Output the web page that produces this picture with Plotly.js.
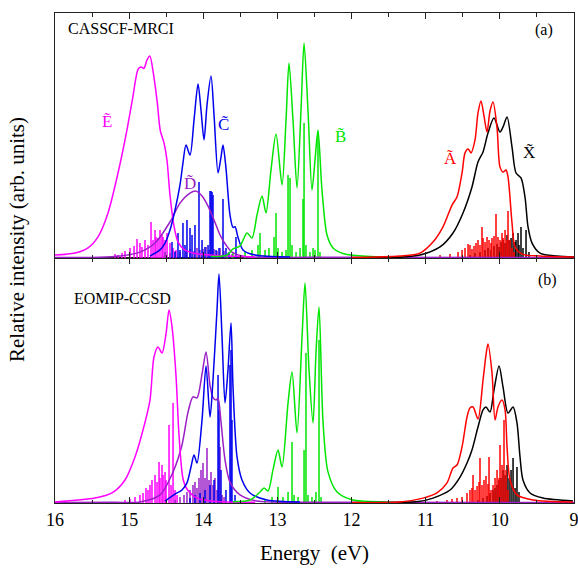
<!DOCTYPE html>
<html>
<head>
<meta charset="utf-8">
<script src="https://cdn.plot.ly/plotly-3.0.1.min.js"></script>
<style>html,body{margin:0;padding:0;background:#fff;}#chart{width:578px;height:568px;}</style>
</head>
<body>
<div id="chart"></div>
<script>
// ---------- Panel (a) CASSCF-MRCI : envelopes ----------
const mrciE_en = [16.0,15.73,15.555,15.42,15.285,15.15,15.03,14.95,14.88,14.84,14.80,14.76,14.72,14.68,14.62,14.58,14.53,14.49,14.45,14.395,14.34,14.26,14.11,13.8,13.3];
const mrciE_int = [1.2,2.0,4.1,8.6,18.4,34.7,52.2,65.7,77.0,78.0,77.4,80.8,82.4,76.7,63.3,52.0,47.0,40.0,26.0,13.0,6.5,3.5,1.8,1.0,0.4];
const mrciC_en = [14.72,14.584,14.516,14.449,14.381,14.314,14.274,14.233,14.179,14.125,14.071,14.031,13.99,13.95,13.896,13.855,13.801,13.761,13.734,13.694,13.64,13.599,13.572,13.532,13.464,13.302,12.83];
const mrciC_int = [0.8,3.3,6.1,11.4,19.6,29.8,38.8,46.1,42.0,56.3,71.0,60.4,48.2,62.4,74.3,58.4,34.7,41.2,46.1,36.7,17.6,12.5,12.8,8.5,3.3,1.2,0.4];
const mrciD_en = [16.0,15.4,15.123,14.854,14.651,14.449,14.314,14.179,14.098,14.017,13.936,13.855,13.774,13.694,13.613,13.437,12.5,9.0];
const mrciD_int = [0.2,0.3,0.8,2.4,6.1,14.7,22.4,26.5,27.3,25.3,21.2,15.5,9.4,5.3,2.4,0.6,0.3,0.2];
const mrciB_en = [13.9,13.68,13.599,13.505,13.41,13.343,13.275,13.208,13.154,13.087,13.019,12.938,12.884,12.844,12.79,12.736,12.682,12.641,12.588,12.534,12.493,12.453,12.399,12.331,12.25,12.088,11.616,11.3];
const mrciB_int = [0.6,1.2,3.7,4.9,10.2,8.2,17.6,25.3,18.4,35.9,50.6,29.8,56.3,79.6,56.3,28.6,60.4,87.8,60.4,27.8,40.0,52.2,27.8,9.4,4.1,1.6,0.4,0.2];
const mrciA_en = [12.0,11.347,11.077,10.902,10.767,10.645,10.578,10.51,10.47,10.429,10.389,10.335,10.295,10.254,10.214,10.173,10.133,10.092,10.038,9.998,9.957,9.917,9.89,9.836,9.795,9.701,9.458,9.0];
const mrciA_int = [0.2,0.8,2.0,6.5,12.7,21.6,24.9,34.7,42.9,44.5,42.9,48.2,59.2,64.1,58.0,51.4,60.0,63.7,53.1,37.1,35.1,35.9,33.1,14.3,4.5,1.6,0.8,0.4];
const mrciX_en = [11.8,11.3,11.077,10.807,10.632,10.497,10.376,10.295,10.227,10.16,10.079,9.998,9.957,9.903,9.836,9.782,9.715,9.661,9.62,9.566,9.458,9.229,9.0];
const mrciX_int = [0.2,0.4,1.2,4.5,10.2,18.4,29.0,39.2,43.3,51.0,57.1,51.4,53.5,57.6,45.3,34.7,32.7,24.9,12.7,6.1,2.0,0.8,0.4];

// ---------- Panel (a) : stick spectra ----------
const mrciE_stk_en = [15.19,15.15,15.096,15.056,14.988,14.934,14.894,14.854,14.827,14.786,14.746,14.705,14.678,14.651,14.638,14.611,14.584,14.557,14.543,14.516,14.489,14.449,14.408,14.368];
const mrciE_stk_int = [1.6,1.2,2.0,2.9,4.1,4.9,7.8,6.1,4.5,7.3,5.3,14.7,7.3,11.4,8.6,8.2,11.4,9.4,8.6,7.3,10.2,6.1,4.1,3.3];
const mrciD_stk_en = [14.516,14.449,14.381,14.314,14.233,14.179,14.125,14.085,14.044,14.004,13.963,13.923,13.855,13.815,13.774,13.72,13.667,13.613];
const mrciD_stk_int = [2.4,2.0,2.9,2.4,3.3,3.7,2.9,4.1,3.3,3.7,4.5,3.3,3.7,2.9,4.1,2.9,2.0,1.6];
const mrciC_stk_en = [14.422,14.381,14.341,14.314,14.274,14.247,14.22,14.179,14.152,14.112,14.058,14.017,13.977,13.936,13.909,13.896,13.882,13.869,13.828,13.788,13.734,13.694,13.653,13.559];
const mrciC_stk_int = [6.5,2.4,10.2,3.3,14.3,5.3,15.5,12.2,9.4,13.5,31.0,7.3,4.5,5.3,27.3,27.3,26.9,25.7,3.3,4.1,24.1,4.1,2.4,8.6];
const mrciB_stk_en = [13.68,13.599,13.437,13.343,13.262,13.235,13.167,13.114,13.046,13.019,12.992,12.938,12.884,12.857,12.83,12.803,12.749,12.695,12.655,12.641,12.615,12.561,12.52,12.493,12.453,12.426];
const mrciB_stk_int = [1.2,2.0,2.4,3.3,5.3,10.2,3.3,4.1,8.6,18.4,4.1,2.4,3.3,33.9,32.7,5.3,2.4,4.1,24.1,55.1,5.3,2.4,4.1,3.3,51.4,2.4];
const mrciA_stk_en = [10.807,10.672,10.564,10.51,10.47,10.429,10.403,10.376,10.349,10.322,10.295,10.268,10.241,10.227,10.2,10.173,10.146,10.119,10.106,10.079,10.052,10.025,9.998,9.971,9.957,9.93,9.903,9.89,9.863,9.836,9.809];
const mrciA_stk_int = [1.2,1.6,2.4,3.3,4.1,5.7,5.3,3.7,4.9,6.1,7.3,5.3,12.7,8.2,6.5,8.6,7.3,6.1,8.2,9.0,18.0,8.6,7.3,10.2,8.2,11.4,7.3,19.2,7.3,4.1,2.4];
const mrciX_stk_en = [10.403,10.335,10.268,10.2,10.16,10.119,10.079,10.038,10.011,9.984,9.957,9.93,9.903,9.876,9.849,9.822,9.795,9.782,9.755,9.742,9.715,9.688,9.647,9.607];
const mrciX_stk_int = [1.2,2.0,2.4,3.3,4.1,3.3,4.9,5.7,4.5,6.5,7.3,6.1,9.4,7.3,8.2,10.2,6.5,7.3,10.2,5.3,12.7,4.1,11.4,2.4];

// ---------- Panel (b) EOMIP-CCSD : envelopes ----------
const eomE_en = [16.0,15.46,15.231,15.056,14.921,14.813,14.719,14.665,14.611,14.557,14.503,14.462,14.422,14.368,14.328,14.274,14.22,14.085,13.815,13.3];
const eomE_int = [0.4,2.0,4.1,9.4,18.8,29.8,42.0,59.6,63.7,61.2,69.0,78.8,72.0,52.0,28.0,10.0,5.7,2.0,0.6,0.3];
const eomD_en = [16.0,15.2,14.854,14.584,14.408,14.287,14.206,14.139,14.085,14.017,13.963,13.909,13.869,13.828,13.801,13.761,13.707,13.64,13.505,13.275,12.5,9.0];
const eomD_int = [0.2,0.3,0.4,3.3,12.7,23.7,37.1,43.3,42.9,52.6,61.6,48.0,43.0,42.0,42.8,33.0,17.6,8.5,3.3,0.8,0.3,0.2];
const eomC_en = [14.516,14.354,14.287,14.22,14.166,14.125,14.085,14.017,13.963,13.909,13.869,13.815,13.788,13.747,13.707,13.667,13.626,13.599,13.545,13.478,13.37,13.141,12.695];
const eomC_int = [0.8,4.1,5.3,8.2,14.7,19.6,16.3,33.9,55.9,35.1,50.2,78.8,93.5,67.8,40.8,54.3,73.5,47.3,18.8,9.4,4.1,1.2,0.4];
const eomB_en = [13.6,13.37,13.235,13.181,13.127,13.06,12.992,12.938,12.857,12.803,12.736,12.668,12.628,12.574,12.52,12.48,12.439,12.385,12.318,12.196,11.981,11.576,11.3];
const eomB_int = [0.5,1.2,4.5,6.1,4.9,13.5,21.6,14.7,40.8,53.5,28.6,67.8,89.8,54.3,32.7,61.2,80.0,33.1,12.7,4.5,1.2,0.4,0.2];
const eomA_en = [12.0,11.347,11.036,10.848,10.713,10.632,10.578,10.51,10.443,10.403,10.362,10.295,10.227,10.187,10.16,10.106,10.065,10.025,9.971,9.93,9.903,9.863,9.769,9.553,9.013];
const eomA_int = [0.2,0.4,2.0,4.1,8.2,14.3,15.5,22.9,35.1,38.8,39.2,34.3,50.2,60.4,64.9,53.1,33.9,39.2,42.0,38.0,22.9,9.4,3.3,1.2,0.4];
const eomX_en = [11.8,11.1,10.902,10.672,10.537,10.443,10.376,10.295,10.227,10.187,10.133,10.079,10.011,9.957,9.89,9.822,9.769,9.728,9.688,9.593,9.418,9.013];
const eomX_int = [0.2,0.6,2.0,5.3,10.6,16.3,21.6,31.0,38.0,39.2,37.1,46.1,55.9,47.3,36.7,39.2,32.7,18.8,9.4,4.1,2.0,0.8];

// ---------- Panel (b) : stick spectra ----------
const eomE_stk_en = [15.056,14.988,14.921,14.854,14.813,14.773,14.746,14.719,14.692,14.651,14.624,14.597,14.584,14.557,14.543,14.516,14.503,14.462,14.435,14.408,14.381,14.354];
const eomE_stk_int = [1.2,1.6,2.4,3.3,4.1,6.1,5.3,7.3,9.4,11.4,8.6,16.7,10.2,15.5,11.4,12.7,9.4,31.8,7.3,40.8,5.3,3.3];
const eomD_stk_en = [14.381,14.314,14.26,14.22,14.179,14.139,14.112,14.085,14.058,14.031,14.004,13.977,13.95,13.923,13.896,13.869,13.842,13.815,13.774,13.747,13.72];
const eomD_stk_int = [1.2,2.4,3.3,4.5,5.3,7.3,8.6,6.1,10.2,13.5,16.3,10.2,22.4,9.4,12.7,7.3,10.2,5.3,22.9,3.3,2.4];
const eomC_stk_en = [14.179,14.112,14.044,13.977,13.909,13.855,13.801,13.788,13.761,13.694,13.64,13.626,13.613,13.572];
const eomC_stk_int = [2.0,3.3,4.1,5.3,7.3,9.4,52.2,38.0,13.5,5.3,56.3,62.4,33.9,3.3];
const eomB_stk_en = [13.168,13.073,12.992,12.925,12.857,12.803,12.776,12.722,12.641,12.615,12.588,12.534,12.48,12.439,12.412];
const eomB_stk_int = [1.2,2.4,6.5,2.4,4.5,24.9,3.3,2.4,21.6,61.2,3.3,2.4,4.5,66.5,2.4];
const eomA_stk_en = [10.848,10.713,10.645,10.578,10.51,10.443,10.403,10.376,10.362,10.335,10.308,10.281,10.268,10.241,10.214,10.187,10.16,10.146,10.119,10.092,10.065,10.038,10.011,9.998,9.971,9.944,9.917,9.89];
const eomA_stk_int = [0.8,1.2,1.6,2.0,2.4,4.1,5.3,6.1,11.4,5.3,6.9,8.6,18.4,7.3,9.4,11.0,7.8,18.8,5.3,7.3,10.2,13.5,10.2,23.7,15.5,33.9,13.5,5.3];
const eomX_stk_en = [10.295,10.227,10.173,10.133,10.092,10.065,10.038,10.011,9.984,9.957,9.93,9.903,9.876,9.849,9.822,9.795,9.769,9.742];
const eomX_stk_int = [1.2,2.0,2.9,4.1,5.3,6.1,7.3,9.4,10.2,13.5,11.4,15.5,10.2,13.5,18.4,6.1,14.7,4.5];

// ---------- labels ----------
const xTickVals = [16,15,14,13,12,11,10,9];
const xTitle = 'Energy\u00a0 (eV)';
const yTitle = 'Relative intensity (arb. units)';
const panelNames = ['CASSCF-MRCI','EOMIP-CCSD'];
const panelTags = ['(a)','(b)'];

const COL = {E:'#ff00ff', D:'#9a1fc6', C:'#0000ee', B:'#00e600', A:'#ff0000', X:'#000000'};
const FONT = 'Liberation Serif, Times New Roman, serif';

function curve(en, it, col, xa, ya){
  return {x:en, y:it, xaxis:xa, yaxis:ya, type:'scatter', mode:'lines',
    line:{color:col, width:1.5, shape:'spline', smoothing:0.8}, hoverinfo:'skip', showlegend:false};
}
function sticks(en, it, col, xa, ya){
  const x=[], y=[];
  for(let i=0;i<en.length;i++){ x.push(en[i],en[i],null); y.push(0,it[i],null); }
  return {x:x, y:y, xaxis:xa, yaxis:ya, type:'scatter', mode:'lines',
    line:{color:col, width:1.5}, hoverinfo:'skip', showlegend:false, connectgaps:false};
}

const traces = [
  // panel (a)
  sticks(mrciE_stk_en, mrciE_stk_int, COL.E, 'x2','y2'),
  sticks(mrciD_stk_en, mrciD_stk_int, COL.D, 'x2','y2'),
  sticks(mrciC_stk_en, mrciC_stk_int, COL.C, 'x2','y2'),
  sticks(mrciB_stk_en, mrciB_stk_int, COL.B, 'x2','y2'),
  sticks(mrciX_stk_en, mrciX_stk_int, COL.X, 'x2','y2'),
  sticks(mrciA_stk_en, mrciA_stk_int, COL.A, 'x2','y2'),
  curve(mrciD_en, mrciD_int, COL.D, 'x2','y2'),
  curve(mrciE_en, mrciE_int, COL.E, 'x2','y2'),
  curve(mrciC_en, mrciC_int, COL.C, 'x2','y2'),
  curve(mrciB_en, mrciB_int, COL.B, 'x2','y2'),
  curve(mrciX_en, mrciX_int, COL.X, 'x2','y2'),
  curve(mrciA_en, mrciA_int, COL.A, 'x2','y2'),
  // panel (b)
  sticks(eomE_stk_en, eomE_stk_int, COL.E, 'x','y'),
  sticks(eomD_stk_en, eomD_stk_int, COL.D, 'x','y'),
  sticks(eomC_stk_en, eomC_stk_int, COL.C, 'x','y'),
  sticks(eomB_stk_en, eomB_stk_int, COL.B, 'x','y'),
  sticks(eomX_stk_en, eomX_stk_int, COL.X, 'x','y'),
  sticks(eomA_stk_en, eomA_stk_int, COL.A, 'x','y'),
  curve(eomD_en, eomD_int, COL.D, 'x','y'),
  curve(eomE_en, eomE_int, COL.E, 'x','y'),
  curve(eomC_en, eomC_int, COL.C, 'x','y'),
  curve(eomB_en, eomB_int, COL.B, 'x','y'),
  curve(eomX_en, eomX_int, COL.X, 'x','y'),
  curve(eomA_en, eomA_int, COL.A, 'x','y')
];

const xCommon = {
  range:[16,9], autorange:false, tickmode:'array', tickvals:xTickVals,
  ticks:'inside', ticklen:6, tickwidth:1.2, tickcolor:'#222',
  minor:{tickvals:[15.5,14.5,13.5,12.5,11.5,10.5,9.5], ticks:'inside', ticklen:3.5, tickwidth:1, tickcolor:'#222'},
  showline:true, linecolor:'#222', linewidth:1.3, mirror:'ticks',
  showgrid:false, zeroline:false, ticklabeloverflow:'allow'
};
const yCommon = {
  range:[0,100], autorange:false, showticklabels:false, ticks:'',
  showline:true, linecolor:'#222', linewidth:1.3, mirror:true,
  showgrid:false, zeroline:false
};

function lab(txt, x, y, col, xr, yr){
  return {text:txt, x:x, y:y, xref:xr, yref:yr, showarrow:false,
    font:{family:FONT, size:17, color:col}, xanchor:'center', yanchor:'middle'};
}

const layout = {
  width:578, height:568,
  margin:{l:55, r:4, t:13, b:65},
  paper_bgcolor:'#fff', plot_bgcolor:'#fff',
  font:{family:FONT, color:'#000'},
  xaxis:Object.assign({}, xCommon, {anchor:'y',
    tickfont:{family:FONT, size:18, color:'#000'},
    title:{text:xTitle, font:{family:FONT, size:21, color:'#000'}, standoff:16}}),
  xaxis2:Object.assign({}, xCommon, {anchor:'y2', matches:'x', showticklabels:false}),
  yaxis:Object.assign({}, yCommon, {domain:[0,0.5], anchor:'x'}),
  yaxis2:Object.assign({}, yCommon, {domain:[0.5,1], anchor:'x2'}),
  annotations:[
    {text:yTitle, xref:'paper', yref:'paper', x:-0.073, y:0.537, textangle:-90, showarrow:false,
     font:{family:FONT, size:21, color:'#000'}, xanchor:'center', yanchor:'middle'},
    {text:panelNames[0], xref:'paper', yref:'paper', x:0.022, y:0.968, xanchor:'left', yanchor:'middle', showarrow:false,
     font:{family:FONT, size:16, color:'#000'}},
    {text:panelTags[0], xref:'paper', yref:'paper', x:0.942, y:0.965, xanchor:'center', yanchor:'middle', showarrow:false,
     font:{family:FONT, size:16, color:'#000'}},
    {text:panelNames[1], xref:'paper', yref:'paper', x:0.032, y:0.418, xanchor:'left', yanchor:'middle', showarrow:false,
     font:{family:FONT, size:16, color:'#000'}},
    {text:panelTags[1], xref:'paper', yref:'paper', x:0.948, y:0.455, xanchor:'center', yanchor:'middle', showarrow:false,
     font:{family:FONT, size:16, color:'#000'}},
    lab('E\u0303', 15.30, 55.9, COL.E, 'x2','y2'),
    lab('C\u0303', 13.734, 54.3, COL.C, 'x2','y2'),
    lab('D\u0303', 14.18, 30.6, COL.D, 'x2','y2'),
    lab('B\u0303', 12.156, 49.4, COL.B, 'x2','y2'),
    lab('A\u0303', 10.672, 40.8, COL.A, 'x2','y2'),
    lab('X\u0303', 9.607, 42.9, COL.X, 'x2','y2')
  ]
};

Plotly.newPlot('chart', traces, layout, {displayModeBar:false, staticPlot:true});
</script>
</body>
</html>
